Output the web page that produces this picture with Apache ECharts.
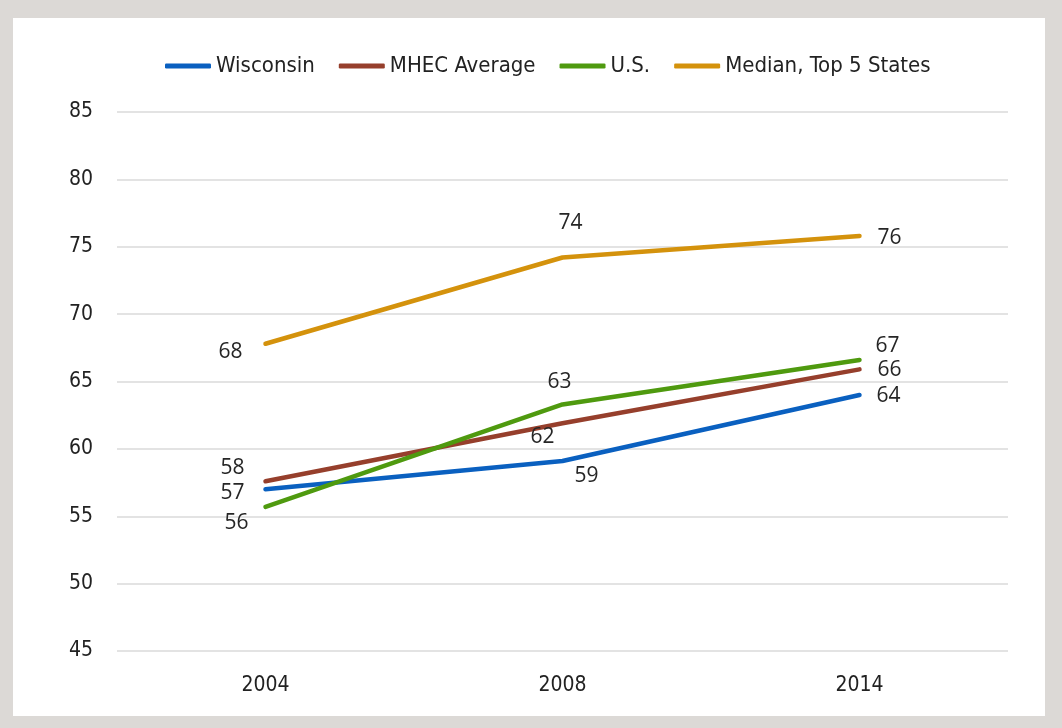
<!DOCTYPE html>
<html>
<head>
<meta charset="utf-8">
<script src="https://cdn.jsdelivr.net/npm/echarts@6/dist/echarts.min.js"></script>
<style>
  html, body { margin: 0; padding: 0; background: #dcd9d6; }
  #chart { position: absolute; left: 13px; top: 18px; width: 1032px; height: 698px; background: #fff; }
</style>
</head>
<body>
<div id="chart"></div>
<script>
const years = ['2004', '2008', '2014'];
const seriesNames = ['Wisconsin', 'MHEC Average', 'U.S.', 'Median, Top 5 States'];
const wisconsin = [57.0, 59.1, 64.0];
const mhec = [57.6, 61.9, 65.9];
const us = [55.7, 63.3, 66.6];
const top5 = [67.8, 74.2, 75.8];

const colors = ['#0a60c0', '#963f2c', '#4f9a0f', '#d4920c'];
// label offsets from each point (px)
const labelOffsets = [
  [[-33, 4], [24, 15], [29, 1]],
  [[-33, -13], [-20, 14], [30, 1]],
  [[-29, 16], [-3, -22], [28, -14]],
  [[-35, 8], [8, -35], [30, 2]]
];

const chart = echarts.init(document.getElementById('chart'));

const makeSeries = (name, values, i) => ({
  name: name,
  type: 'line',
  symbol: 'circle',
  symbolSize: 0,
  showSymbol: true,
  lineStyle: { width: 4.5, color: colors[i], cap: 'round', join: 'round' },
  itemStyle: { color: colors[i] },
  data: values.map((v, j) => ({
    value: v,
    label: { offset: labelOffsets[i][j] }
  })),
  label: {
    show: true,
    position: 'inside',
    formatter: p => Math.round(p.value),
    fontFamily: 'Open Sans, Noto Sans, sans-serif',
    fontSize: 21,
    color: '#262626'
  },
  emphasis: { disabled: true }
});

chart.setOption({
  animation: false,
  color: colors,
  legend: {
    top: 32,
    left: 147,
    icon: 'roundRect',
    itemWidth: 46,
    itemHeight: 5,
    itemGap: 24,
    textStyle: {
      fontFamily: 'Liberation Sans Narrow, DejaVu Sans Condensed, sans-serif',
      fontSize: 22,
      color: '#222'
    },
    data: seriesNames
  },
  grid: { left: 104, right: 37, top: 94, bottom: 65 },
  xAxis: {
    type: 'category',
    data: years,
    boundaryGap: true,
    axisLine: { show: false },
    axisTick: { show: false },
    axisLabel: {
      margin: 24,
      fontFamily: 'Liberation Sans Narrow, DejaVu Sans Condensed, sans-serif',
      fontSize: 21,
      color: '#222'
    }
  },
  yAxis: {
    type: 'value',
    min: 45,
    max: 85,
    interval: 5,
    axisLine: { show: false },
    axisTick: { show: false },
    splitLine: { lineStyle: { color: '#dadada', width: 1.5 } },
    axisLabel: {
      margin: 24,
      fontFamily: 'Liberation Sans Narrow, DejaVu Sans Condensed, sans-serif',
      fontSize: 21,
      color: '#222'
    }
  },
  series: [
    makeSeries(seriesNames[0], wisconsin, 0),
    makeSeries(seriesNames[1], mhec, 1),
    makeSeries(seriesNames[2], us, 2),
    makeSeries(seriesNames[3], top5, 3)
  ]
});
</script>
</body>
</html>
